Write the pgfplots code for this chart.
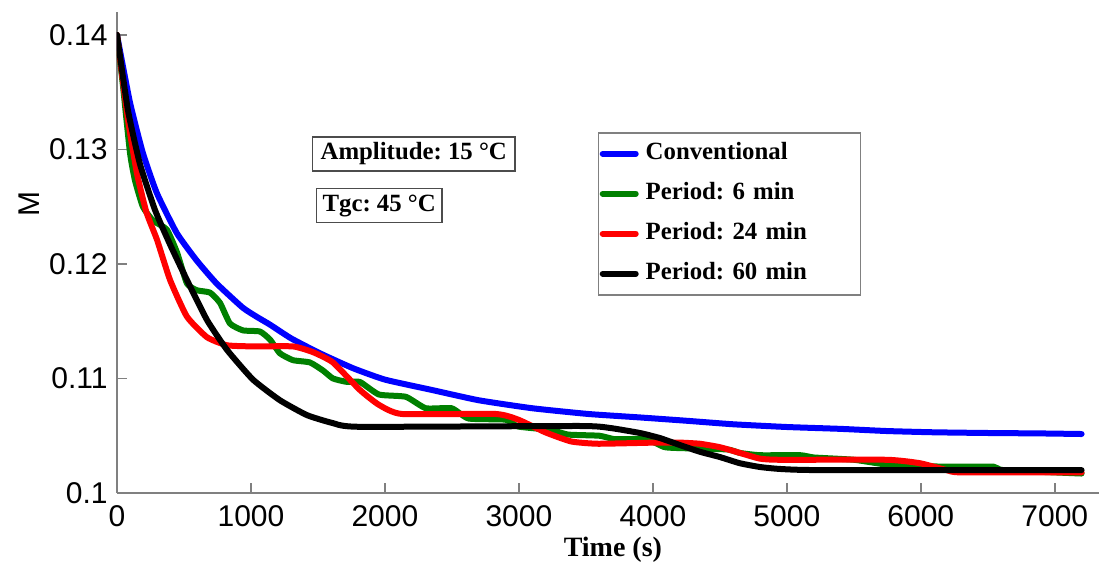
\documentclass[border=0pt]{standalone}
\usepackage{pgfplots}
\pgfplotsset{compat=1.18}
\usepackage{fontspec}
\setmainfont{Liberation Serif}
\setsansfont{Liberation Sans}
\definecolor{mgreen}{RGB}{0,128,0}
\frenchspacing
\begin{document}
\begin{tikzpicture}
\useasboundingbox (-58.5pt,-37pt) rectangle (491pt,246.5pt);
\begin{axis}[
  at={(0pt,0pt)}, anchor=south west,
  scale only axis, width=491pt, height=240.5pt,
  xmin=0, xmax=7330, ymin=0.1, ymax=0.142,
  axis x line=bottom, axis y line=left,
  axis line style={-, draw=black!50, line width=0.75pt},
  tick align=inside, major tick length=5pt,
  tick style={draw=black!50, line width=0.75pt},
  xtick={0,1000,2000,3000,4000,5000,6000,7000},
  xticklabels={0,1000,2000,3000,4000,5000,6000,7000},
  ytick={0.1,0.11,0.12,0.13,0.14},
  yticklabels={0.1,0.11,0.12,0.13,0.14},
  ticklabel style={font=\fontsize{15}{18}\sffamily},
  xticklabel style={anchor=north, inner sep=0pt, yshift=-6pt},
  yticklabel style={anchor=east, inner sep=0pt, xshift=-4.5pt},
  xlabel={Time (s)},
  xlabel style={font=\fontsize{14}{16}\selectfont\bfseries, at={(axis description cs:0.505,-0.1185)}, anchor=center},
  ylabel={M},
  ylabel style={font=\fontsize{15}{18}\sffamily, at={(axis description cs:-0.089,0.6)}, anchor=center},
  legend style={at={(axis description cs:0.4898,0.7505)}, anchor=north west,
    draw=black!50, line width=0.75pt,
    font=\fontsize{12.4}{14}\selectfont\bfseries,
    inner xsep=0.5pt, inner ysep=4.5pt, row sep=8pt,
    nodes={inner xsep=3.5pt, inner ysep=0pt, text height=9pt, text depth=3pt, text width=103.5pt, align=left}},
  legend cell align=left,
  legend image code/.code={\draw[#1, line width=3pt] (0pt,0pt) -- (16.5pt,0pt);},
  every axis plot/.append style={line width=3pt, line join=round, line cap=round, smooth, tension=0.3},
]
\addplot[blue] coordinates {
(0,0.1400) (97,0.1341) (193,0.1297) (297,0.1262) (446,0.1227) (595,0.1203) (743,0.1183)
(937,0.1162) (1041,0.1154) (1142,0.1147) (1300,0.1135) (1515,0.1122) (1761,0.1109)
(2000,0.1099) (2349,0.1090) (2699,0.1081) (3100,0.1074) (3517,0.1069) (3900,0.1066)
(4260,0.1063) (4600,0.1060) (5004,0.10576) (5400,0.1056) (5747,0.10541) (6100,0.1053)
(6491,0.10524) (6900,0.1052) (7200,0.10515)
};
\addlegendentry{Conventional}
\addplot[mgreen] coordinates {
(0,0.1400) (45,0.1355) (97,0.1297) (134,0.1273) (193,0.1250) (268,0.1238) (372,0.1230)
(448,0.1210) (522,0.1183) (597,0.1177) (694,0.1175) (769,0.1166) (843,0.1148)
(940,0.1142) (1067,0.1141) (1142,0.1134) (1216,0.1122) (1313,0.1116) (1440,0.1114)
(1537,0.1107) (1612,0.1100) (1716,0.1097) (1813,0.1097) (1955,0.1086) (2156,0.1084) (2305,0.1074)
(2498,0.1074) (2625,0.1065) (2900,0.1064) (2996,0.1058) (3242,0.1055) (3368,0.1051)
(3600,0.1050) (3717,0.1047) (3950,0.1047) (4089,0.1040) (4260,0.1039) (4558,0.1038)
(4649,0.1035) (4799,0.1033) (5100,0.1033) (5204,0.1031) (5502,0.1029) (5799,0.1024) (6216,0.1023)
(6543,0.1023) (6617,0.1020) (7200,0.1017)
};
\addlegendentry{Period: 6 min}
\addplot[red] coordinates {
(0,0.1400) (82,0.1326) (149,0.1279) (220,0.1245) (299,0.1221) (396,0.1186) (522,0.1154)
(672,0.1136) (821,0.1129) (1015,0.1128) (1313,0.1128) (1463,0.1123) (1612,0.1114)
(1813,0.1090) (1955,0.1077) (2126,0.1069) (2825,0.1069) (2996,0.1064) (3197,0.1053)
(3390,0.1045) (3591,0.1043) (4015,0.1044) (4201,0.1044) (4351,0.1043) (4500,0.1040)
(4649,0.1035) (4799,0.1030) (4948,0.1029) (5747,0.1029) (5993,0.1026) (6193,0.1020)
(6300,0.1018) (7200,0.1018)
};
\addlegendentry{Period: 24 min}
\addplot[black] coordinates {
(0,0.1400) (82,0.1334) (172,0.1287) (284,0.1247) (396,0.1217) (522,0.1186) (672,0.1151)
(821,0.1125) (1015,0.1099) (1216,0.1081) (1418,0.1068) (1612,0.1061) (1813,0.10578)
(3455,0.10585) (3679,0.10568) (3903,0.10524) (4052,0.1048) (4201,0.10419) (4351,0.1036)
(4500,0.10314) (4649,0.1026) (4799,0.10227) (4948,0.1021) (5246,0.1020) (7200,0.1020)
};
\addlegendentry{Period: 60 min}
\node[draw=black!70, line width=0.75pt, font=\fontsize{12.4}{14}\selectfont\bfseries,
  inner xsep=4pt, inner ysep=2.5pt, text height=9pt, text depth=3pt]
  at (axis cs:2215,0.12961) {Amplitude: 15 °C};
\node[draw=black!70, line width=0.75pt, font=\fontsize{12.4}{14}\selectfont\bfseries,
  inner xsep=3pt, inner ysep=2.5pt, text height=9pt, text depth=3pt]
  at (axis cs:1957,0.12511) {Tgc: 45 °C};
\end{axis}
\end{tikzpicture}
\end{document}
